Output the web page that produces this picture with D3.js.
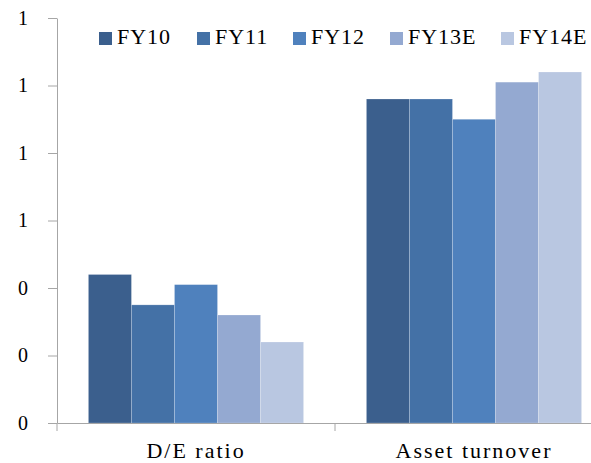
<!DOCTYPE html>
<html>
<head>
<meta charset="utf-8">
<script src="https://cdn.jsdelivr.net/npm/d3@7"></script>
<style>
  html, body { margin: 0; padding: 0; background: #fff; }
  svg { display: block; }
</style>
</head>
<body>
<script>
// Ratios by fiscal year
const categories = ["D/E ratio", "Asset turnover"];
const seriesNames = ["FY10", "FY11", "FY12", "FY13E", "FY14E"];
const deRatio = [0.44, 0.35, 0.41, 0.32, 0.24];
const assetTurnover = [0.96, 0.96, 0.90, 1.01, 1.04];
const yTicks = [0, 0.2, 0.4, 0.6, 0.8, 1.0, 1.2];
const colors = ["#3b5f8d", "#4471a6", "#4f81bd", "#94a9d1", "#b9c7e1"];

const seriesValues = [deRatio, assetTurnover];
const FONT = '"Liberation Serif", serif';

const width = 591, height = 463;
const margin = { left: 57, top: 18, bottom: 40 };
const plotBottom = height - margin.bottom; // 423

const svg = d3.select("body").append("svg")
  .attr("width", width).attr("height", height);

// The second category band runs past the right edge, so the frame cuts it off
const x0 = d3.scaleBand().domain(categories).range([margin.left, 613]).paddingInner(0).paddingOuter(0);
const x1 = d3.scaleBand().domain(seriesNames).range([0, x0.bandwidth()]).paddingInner(0).paddingOuter(0.73);
const y = d3.scaleLinear().domain([0, 1.2]).range([plotBottom, margin.top]);

// Bars
const groups = svg.append("g").selectAll("g")
  .data(categories)
  .join("g")
  .attr("transform", d => `translate(${x0(d)},0)`);

groups.selectAll("rect")
  .data((c, i) => seriesNames.map((s, j) => ({ s, v: seriesValues[i][j], j })))
  .join("rect")
  .attr("x", d => x1(d.s))
  .attr("y", d => y(d.v))
  .attr("width", x1.bandwidth())
  .attr("height", d => y(0) - y(d.v))
  .attr("fill", d => colors[d.j])
  .attr("stroke", "#ffffff")
  .attr("stroke-opacity", 0.35)
  .attr("stroke-width", 0.6);

// Y axis (whole-number labels)
const yAxis = svg.append("g")
  .attr("transform", `translate(${margin.left},0)`)
  .call(d3.axisLeft(y).tickValues(yTicks).tickFormat(d3.format(".0f")).tickSizeInner(9).tickSizeOuter(0).tickPadding(20));
yAxis.attr("font-family", null).attr("font-size", null);
yAxis.select(".domain").attr("stroke", "#a6a6a6");
yAxis.selectAll(".tick line").attr("stroke", "#a6a6a6");
yAxis.selectAll(".tick text")
  .attr("fill", "#000")
  .style("font-family", FONT)
  .style("font-size", "20px");

// X axis
const xAxis = svg.append("g")
  .attr("transform", `translate(0,${plotBottom})`)
  .call(d3.axisBottom(x0).tickSize(0).tickPadding(19));
xAxis.attr("font-family", null).attr("font-size", null);
xAxis.select(".domain").attr("stroke", "#a6a6a6");
xAxis.selectAll(".tick text")
  .attr("fill", "#000")
  .style("font-family", FONT)
  .style("font-size", "22px")
  .style("letter-spacing", "2px");

// Category divider ticks
svg.append("g").selectAll("line")
  .data(categories.concat(["end"]))
  .join("line")
  .attr("x1", (d, i) => i < categories.length ? x0(d) : x0.range()[1])
  .attr("x2", (d, i) => i < categories.length ? x0(d) : x0.range()[1])
  .attr("y1", plotBottom)
  .attr("y2", plotBottom + 8)
  .attr("stroke", "#a6a6a6");

// Legend
const legendX = [99, 197, 293, 390, 501];
const legend = svg.append("g").selectAll("g")
  .data(seriesNames)
  .join("g")
  .attr("transform", (d, i) => `translate(${legendX[i]},32)`);
legend.append("rect")
  .attr("width", 13).attr("height", 13)
  .attr("fill", (d, i) => colors[i]);
legend.append("text")
  .attr("x", 18).attr("y", 12)
  .style("font-family", FONT)
  .style("font-size", "22px")
  .style("letter-spacing", "1px")
  .attr("fill", "#000")
  .text(d => d);
</script>
</body>
</html>
